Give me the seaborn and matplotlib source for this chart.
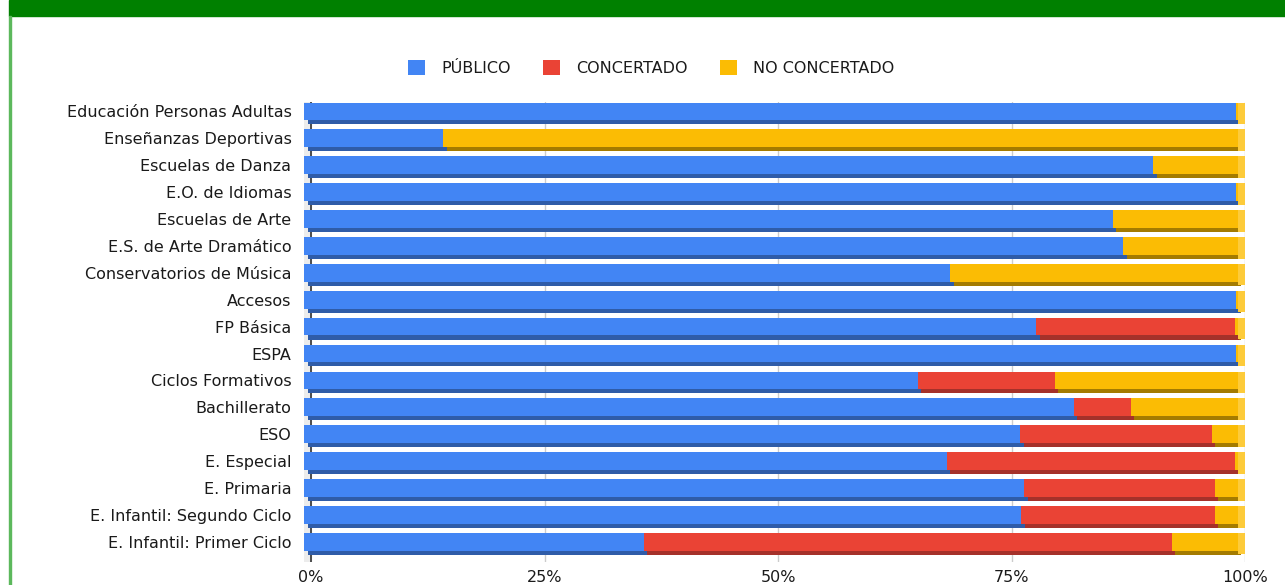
import matplotlib.pyplot as plt
import matplotlib.patches as mpatches
import numpy as np
import seaborn as sns

# Datos (porcentaje del alumnado por titularidad)
ensenanzas = [
    "Educación Personas Adultas", "Enseñanzas Deportivas", "Escuelas de Danza",
    "E.O. de Idiomas", "Escuelas de Arte", "E.S. de Arte Dramático",
    "Conservatorios de Música", "Accesos", "FP Básica", "ESPA",
    "Ciclos Formativos", "Bachillerato", "ESO", "E. Especial", "E. Primaria",
    "E. Infantil: Segundo Ciclo", "E. Infantil: Primer Ciclo",
]
publico = [99.8, 14.9, 90.9, 99.8, 86.6, 87.7, 69.2, 99.8, 78.4, 99.8,
           65.7, 82.4, 76.7, 68.8, 77.1, 76.8, 36.4]
concertado = [0, 0, 0, 0, 0, 0, 0, 0, 21.3, 0,
              14.7, 6.1, 20.5, 30.9, 20.4, 20.7, 56.5]
no_concertado = [0.2, 85.1, 9.1, 0.2, 13.4, 12.3, 30.8, 0.2, 0.3, 0.2,
                 19.6, 11.5, 2.8, 0.3, 2.5, 2.5, 7.1]
series = ["PÚBLICO", "CONCERTADO", "NO CONCERTADO"]
ticks = [0, 25, 50, 75, 100]
tick_labels = ["0%", "25%", "50%", "75%", "100%"]

colores = ["#4285F4", "#EA4335", "#FBBC04"]
sombras = ["#2F5CA8", "#A5312A", "#A47B00"]
lateral = "#FDCB3A"
DEPTH = 0.75  # falso 3D

sns.set_theme(style="white")
plt.rcParams['font.family'] = ['DejaVu Sans']

fig = plt.figure(figsize=(12.85, 5.85), dpi=100)
W, H = 1285, 585
ax = fig.add_axes([304 / W, 1 - 562 / H, (1245 - 304) / W, (562 - 102) / H])

y = np.arange(len(ensenanzas))
left = np.zeros(len(y))
for vals, c, s in zip([publico, concertado, no_concertado], colores, sombras):
    vals = np.array(vals, dtype=float)
    ax.barh(y + 0.40, vals, left=left - DEPTH / 2, height=0.16, color=s,
            linewidth=0, zorder=2)
    ax.barh(y, vals, left=left - DEPTH, height=0.66, color=c,
            linewidth=0, zorder=3)
    left = left + vals
# cara lateral derecha
ax.barh(y + 0.07, DEPTH, left=left - DEPTH, height=0.80, color=lateral,
        linewidth=0, zorder=2)

ax.axvspan(-DEPTH, 0, color="#ececec", zorder=0)
ax.axvline(0, color="#333333", lw=1.2, zorder=1)
for t in ticks[1:]:
    ax.axvline(t, color="#cccccc", lw=1, zorder=1)

ax.set_xlim(-DEPTH, 100)
ax.set_ylim(16.75, -0.35)
ax.set_xticks(ticks)
ax.set_xticklabels(tick_labels, fontsize=11.5, color="#1a1a1a")
ax.set_yticks(y)
ax.set_yticklabels(ensenanzas, fontsize=11.5, color="#1a1a1a")
ax.tick_params(axis="both", length=0)
ax.tick_params(axis="y", pad=9)
ax.tick_params(axis="x", pad=6)
for sp in ax.spines.values():
    sp.set_visible(False)

handles = [mpatches.Patch(color=c, linewidth=0) for c in colores]
fig.legend(handles, series, loc="center", bbox_to_anchor=(651 / W, 1 - 68 / H),
           ncol=3, frameon=False, fontsize=11.5, handlelength=1.1,
           handleheight=1.1, handletextpad=1.0, columnspacing=2.0,
           labelcolor="#1a1a1a")

# marco verde
fig.patches.append(mpatches.Rectangle((9 / W, 1 - 16 / H), 1, 16 / H,
                                      transform=fig.transFigure, color="#008000"))
fig.patches.append(mpatches.Rectangle((9 / W, 0), 2 / W, 1 - 16 / H,
                                      transform=fig.transFigure, color="#5cb85c"))

fig.savefig("out.png", dpi=100)
